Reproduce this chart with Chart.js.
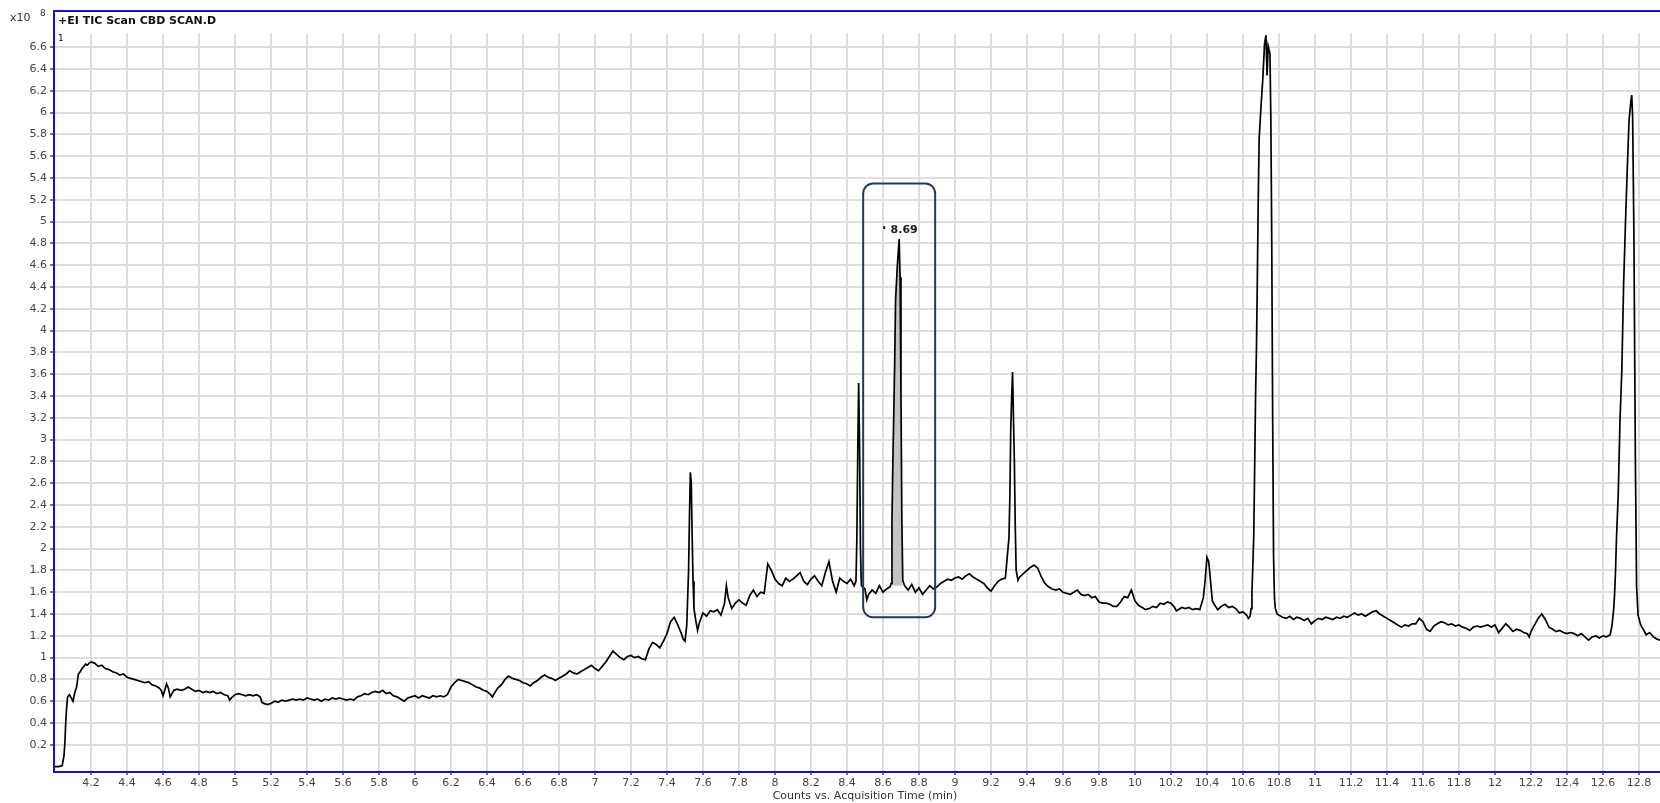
<!DOCTYPE html>
<html>
<head>
<meta charset="utf-8">
<title>+EI TIC Scan CBD SCAN.D</title>
<script src="https://cdn.jsdelivr.net/npm/chart.js@4.4.0/dist/chart.umd.min.js"></script>
<style>
    html, body { margin: 0; padding: 0; background: #fff; }
    #wrap { width: 1660px; height: 803px; }
</style>
</head>
<body>
<div id="wrap"><canvas id="tic" width="1660" height="803"></canvas></div>
<script>
// acquisition time (min) and counts (x10^8)
var times = [
    4.00,4.02,4.04,4.05,4.055,4.06,4.065,4.07,4.08,4.09,
    4.10,4.11,4.12,4.13,4.14,4.15,4.16,4.17,4.18,4.19,
    4.20,4.22,4.24,4.26,4.28,4.30,4.32,4.34,4.36,4.38,
    4.40,4.42,4.44,4.46,4.48,4.50,4.52,4.54,4.56,4.58,
    4.59,4.60,4.61,4.62,4.63,4.64,4.66,4.68,4.70,4.72,
    4.74,4.76,4.78,4.80,4.82,4.84,4.86,4.88,4.90,4.92,
    4.94,4.96,4.97,4.98,5.00,5.02,5.04,5.06,5.08,5.10,
    5.12,5.14,5.15,5.16,5.18,5.20,5.22,5.24,5.26,5.28,
    5.30,5.32,5.34,5.36,5.38,5.40,5.42,5.44,5.46,5.48,
    5.50,5.52,5.54,5.56,5.58,5.60,5.62,5.64,5.66,5.68,
    5.70,5.72,5.74,5.76,5.78,5.80,5.82,5.84,5.86,5.88,
    5.90,5.92,5.94,5.96,5.98,6.00,6.02,6.04,6.06,6.08,
    6.10,6.12,6.14,6.16,6.18,6.20,6.22,6.24,6.26,6.28,
    6.30,6.32,6.34,6.36,6.38,6.40,6.42,6.43,6.44,6.46,
    6.48,6.50,6.52,6.54,6.56,6.58,6.60,6.62,6.64,6.66,
    6.68,6.70,6.72,6.74,6.76,6.78,6.80,6.82,6.84,6.86,
    6.88,6.90,6.92,6.94,6.96,6.98,7.00,7.02,7.04,7.06,
    7.08,7.10,7.12,7.14,7.16,7.18,7.20,7.22,7.24,7.26,
    7.28,7.30,7.32,7.34,7.36,7.38,7.40,7.42,7.44,7.46,
    7.48,7.49,7.50,7.51,7.52,7.525,7.53,7.535,7.54,7.545,
    7.55,7.56,7.57,7.58,7.60,7.62,7.64,7.66,7.68,7.70,
    7.72,7.73,7.74,7.76,7.78,7.80,7.82,7.84,7.86,7.88,
    7.90,7.92,7.94,7.96,7.98,8.00,8.02,8.04,8.06,8.08,
    8.10,8.12,8.14,8.16,8.18,8.20,8.22,8.24,8.26,8.28,
    8.30,8.32,8.34,8.36,8.38,8.40,8.42,8.44,8.45,8.455,
    8.46,8.465,8.47,8.475,8.48,8.50,8.51,8.52,8.54,8.56,
    8.58,8.60,8.62,8.64,8.645,8.65,8.655,8.66,8.665,8.67,
    8.68,8.69,8.695,8.70,8.705,8.71,8.72,8.74,8.76,8.78,
    8.80,8.82,8.84,8.86,8.88,8.90,8.92,8.94,8.96,8.98,
    9.00,9.02,9.04,9.06,9.08,9.10,9.12,9.14,9.16,9.18,
    9.20,9.22,9.24,9.26,9.28,9.30,9.305,9.31,9.315,9.32,
    9.325,9.33,9.335,9.34,9.35,9.36,9.38,9.40,9.42,9.44,
    9.46,9.48,9.50,9.52,9.54,9.56,9.58,9.60,9.62,9.64,
    9.66,9.68,9.70,9.72,9.74,9.76,9.78,9.80,9.82,9.84,
    9.86,9.88,9.90,9.92,9.94,9.96,9.98,10.00,10.02,10.04,
    10.06,10.08,10.10,10.12,10.14,10.16,10.18,10.20,10.22,10.23,
    10.24,10.26,10.28,10.30,10.32,10.34,10.36,10.38,10.39,10.40,
    10.41,10.42,10.43,10.44,10.46,10.48,10.50,10.52,10.54,10.56,
    10.58,10.60,10.62,10.63,10.64,10.645,10.65,10.655,10.66,10.665,
    10.67,10.675,10.68,10.685,10.69,10.70,10.71,10.72,10.728,10.734,
    10.74,10.75,10.755,10.76,10.765,10.77,10.775,10.78,10.79,10.80,
    10.82,10.84,10.86,10.88,10.90,10.92,10.94,10.96,10.98,11.00,
    11.02,11.04,11.06,11.08,11.10,11.12,11.14,11.16,11.18,11.20,
    11.22,11.24,11.26,11.28,11.30,11.32,11.34,11.36,11.38,11.40,
    11.42,11.44,11.46,11.48,11.50,11.52,11.54,11.56,11.58,11.60,
    11.62,11.64,11.66,11.68,11.70,11.72,11.74,11.76,11.78,11.80,
    11.82,11.84,11.86,11.88,11.90,11.92,11.94,11.96,11.98,12.00,
    12.02,12.04,12.06,12.08,12.10,12.12,12.14,12.16,12.18,12.19,
    12.20,12.22,12.24,12.26,12.28,12.30,12.32,12.34,12.36,12.38,
    12.40,12.42,12.44,12.46,12.48,12.50,12.52,12.54,12.56,12.58,
    12.60,12.62,12.64,12.65,12.66,12.665,12.67,12.675,12.685,12.695,
    12.705,12.715,12.725,12.735,12.745,12.755,12.76,12.765,12.772,12.78,
    12.787,12.795,12.81,12.82,12.84,12.86,12.88,12.90,12.92,12.94
]
var counts = [
    0.00,0.00,0.01,0.10,0.22,0.42,0.55,0.64,0.66,0.63,
    0.60,0.68,0.73,0.85,0.87,0.90,0.92,0.94,0.93,0.95,
    0.96,0.95,0.92,0.93,0.90,0.89,0.87,0.86,0.84,0.85,
    0.82,0.81,0.80,0.79,0.78,0.77,0.78,0.75,0.74,0.72,
    0.70,0.65,0.70,0.76,0.72,0.64,0.70,0.71,0.70,0.71,
    0.73,0.71,0.69,0.70,0.68,0.69,0.68,0.69,0.67,0.68,
    0.66,0.65,0.61,0.63,0.66,0.67,0.66,0.65,0.66,0.65,
    0.66,0.64,0.59,0.58,0.57,0.58,0.60,0.59,0.61,0.60,
    0.61,0.62,0.61,0.62,0.61,0.63,0.62,0.61,0.62,0.60,
    0.62,0.61,0.63,0.62,0.63,0.62,0.61,0.62,0.61,0.64,
    0.65,0.67,0.66,0.68,0.69,0.68,0.70,0.67,0.68,0.65,
    0.64,0.62,0.60,0.63,0.64,0.65,0.63,0.65,0.64,0.63,
    0.65,0.64,0.65,0.64,0.66,0.73,0.77,0.80,0.79,0.78,
    0.77,0.75,0.73,0.72,0.70,0.69,0.66,0.64,0.67,0.72,
    0.75,0.80,0.83,0.81,0.80,0.79,0.77,0.76,0.74,0.77,
    0.79,0.82,0.84,0.82,0.81,0.79,0.81,0.83,0.85,0.88,
    0.86,0.85,0.87,0.89,0.91,0.93,0.90,0.88,0.92,0.96,
    1.01,1.06,1.03,1.00,0.98,1.01,1.02,1.00,1.01,0.99,
    0.98,1.08,1.14,1.12,1.09,1.15,1.22,1.33,1.37,1.30,
    1.22,1.17,1.15,1.30,1.80,2.30,2.70,2.60,2.10,1.70,
    1.45,1.34,1.25,1.32,1.41,1.38,1.43,1.42,1.44,1.39,
    1.50,1.66,1.55,1.45,1.50,1.53,1.50,1.48,1.57,1.62,
    1.56,1.60,1.59,1.86,1.80,1.72,1.68,1.66,1.73,1.70,
    1.72,1.75,1.78,1.70,1.67,1.72,1.75,1.70,1.66,1.78,
    1.88,1.70,1.60,1.73,1.70,1.68,1.72,1.66,1.70,2.10,
    2.90,3.52,2.95,2.00,1.66,1.63,1.53,1.58,1.62,1.59,
    1.66,1.60,1.63,1.65,1.68,2.26,2.80,3.24,3.70,4.28,
    4.60,4.84,4.49,3.42,2.26,1.71,1.66,1.62,1.67,1.60,
    1.64,1.58,1.62,1.66,1.63,1.65,1.68,1.70,1.72,1.71,
    1.73,1.74,1.72,1.75,1.77,1.74,1.72,1.70,1.68,1.64,
    1.61,1.66,1.70,1.72,1.73,2.10,2.47,3.10,3.39,3.62,
    3.20,2.80,2.20,1.80,1.71,1.74,1.77,1.80,1.83,1.85,
    1.82,1.74,1.68,1.65,1.63,1.62,1.63,1.60,1.59,1.58,
    1.60,1.62,1.58,1.57,1.58,1.55,1.56,1.51,1.50,1.50,
    1.49,1.47,1.47,1.51,1.56,1.55,1.62,1.52,1.48,1.46,
    1.44,1.45,1.47,1.46,1.50,1.49,1.51,1.50,1.46,1.43,
    1.44,1.46,1.45,1.46,1.44,1.45,1.44,1.55,1.71,1.92,
    1.88,1.70,1.52,1.49,1.44,1.47,1.49,1.46,1.47,1.45,
    1.41,1.42,1.39,1.36,1.38,1.45,1.60,1.85,2.12,2.74,
    3.39,3.83,4.48,5.21,5.76,6.05,6.30,6.63,6.71,6.34,
    6.61,6.54,5.94,4.81,3.21,1.94,1.55,1.45,1.40,1.39,
    1.37,1.36,1.38,1.35,1.37,1.36,1.34,1.36,1.31,1.34,
    1.36,1.35,1.37,1.36,1.35,1.37,1.36,1.38,1.37,1.39,
    1.41,1.39,1.40,1.38,1.40,1.42,1.43,1.40,1.38,1.36,
    1.34,1.32,1.30,1.28,1.30,1.29,1.31,1.31,1.36,1.33,
    1.26,1.24,1.29,1.31,1.33,1.32,1.30,1.31,1.29,1.30,
    1.28,1.27,1.25,1.28,1.29,1.28,1.29,1.30,1.28,1.30,
    1.23,1.27,1.31,1.28,1.24,1.26,1.25,1.23,1.22,1.19,
    1.24,1.30,1.36,1.40,1.35,1.28,1.26,1.24,1.25,1.23,
    1.22,1.23,1.22,1.20,1.22,1.19,1.16,1.19,1.20,1.18,
    1.20,1.19,1.21,1.29,1.45,1.59,1.80,2.08,2.50,3.19,
    3.64,4.43,4.98,5.47,5.93,6.10,6.16,5.96,4.89,2.86,
    1.65,1.39,1.30,1.27,1.21,1.23,1.19,1.17,1.16,1.18
]

var xTicks = [4.2,4.4,4.6,4.8,5,5.2,5.4,5.6,5.8,6,6.2,6.4,6.6,6.8,7,7.2,7.4,7.6,7.8,8,8.2,8.4,8.6,8.8,9,
              9.2,9.4,9.6,9.8,10,10.2,10.4,10.6,10.8,11,11.2,11.4,11.6,11.8,12,12.2,12.4,12.6,12.8]
var yTicks = [0.2,0.4,0.6,0.8,1,1.2,1.4,1.6,1.8,2,2.2,2.4,2.6,2.8,3,3.2,3.4,3.6,3.8,4,4.2,4.4,4.6,4.8,5,
              5.2,5.4,5.6,5.8,6,6.2,6.4,6.6]

// integrated peak at 8.69 min and its highlight box
var peakLabel = 8.69
var peakRange = [8.645, 8.71]
var peakBase = 1.66
var boxTimes = [8.49, 8.89]
var boxCounts = [1.37, 5.35]

var trace = times.map(function(t, i) { return {x: t, y: counts[i]} })
var peakArea = trace.filter(function(p) { return p.x >= peakRange[0] && p.x <= peakRange[1] })

var fam = "'DejaVu Sans', Verdana, sans-serif"
var fmt = function(v) { return String(Number(Number(v).toFixed(1))) }
var tickFont = {family: fam, size: 11}

var framePlugin = {
    id: 'frame',
    afterDatasetsDraw: function(chart) {
        var c = chart.ctx, xs = chart.scales.x, ys = chart.scales.y
        // rounded box round the 8.69 peak
        var x1 = xs.getPixelForValue(boxTimes[0]), x2 = xs.getPixelForValue(boxTimes[1])
        var y1 = ys.getPixelForValue(boxCounts[1]), y2 = ys.getPixelForValue(boxCounts[0])
        c.save()
        c.strokeStyle = '#1f3864'
        c.lineWidth = 2
        c.beginPath()
        c.roundRect(x1, y1, x2 - x1, y2 - y1, 10)
        c.stroke()
        // peak label
        var px = xs.getPixelForValue(peakLabel)
        var py = ys.getPixelForValue(counts[times.indexOf(peakLabel)])
        c.fillStyle = '#1a1a1a'
        c.font = 'bold 11px ' + fam
        c.textAlign = 'center'
        c.textBaseline = 'middle'
        c.fillText(String(peakLabel), px + 5, py - 9)
        c.fillRect(px - 16, py - 13, 2, 3)
        c.restore()
    },
    afterDraw: function(chart) {
        var c = chart.ctx, a = chart.chartArea
        c.save()
        c.strokeStyle = '#1414c8'
        c.lineWidth = 2
        c.beginPath()
        c.moveTo(a.left - 1, a.bottom + 1)
        c.lineTo(a.left - 1, 11)
        c.lineTo(chart.width, 11)
        c.moveTo(a.left - 2, a.bottom + 1)
        c.lineTo(chart.width, a.bottom + 1)
        c.stroke()

        c.fillStyle = '#111'
        c.textBaseline = 'middle'
        c.textAlign = 'left'
        c.font = 'bold 11px ' + fam
        c.fillText('+EI TIC Scan CBD SCAN.D', a.left + 3, 21)
        c.font = '9px ' + fam
        c.fillText('1', a.left + 3, 39)
        c.fillStyle = '#333'
        c.font = '11px ' + fam
        c.fillText('x10', 10, 18)
        c.font = '9px ' + fam
        c.fillText('8', 40, 14)
        c.font = '11px ' + fam
        c.textAlign = 'center'
        c.fillText('Counts vs. Acquisition Time (min)', 865, 796)
        c.restore()
    }
}

var ctx = document.getElementById('tic').getContext('2d')
new Chart(ctx, {
    type: 'line',
    data: {
        datasets: [
            {
                label           : 'TIC',
                data            : trace,
                borderColor     : '#000',
                borderWidth     : 1.7,
                pointRadius     : 0,
                tension         : 0,
                fill            : false
            },
            {
                label           : 'Peak 8.69',
                data            : peakArea,
                borderColor     : 'rgba(0,0,0,0)',
                borderWidth     : 0,
                backgroundColor : '#c4c4c4',
                pointRadius     : 0,
                tension         : 0,
                fill            : {value: peakBase}
            }
        ]
    },
    options: {
        responsive: false,
        animation: false,
        devicePixelRatio: 1,
        layout: {padding: {top: 33, left: 0, right: 0, bottom: 0}},
        plugins: {
            legend: {display: false},
            tooltip: {enabled: false},
            title: {display: false}
        },
        scales: {
            x: {
                type: 'linear',
                min: 4.0,
                max: 12.917,
                afterBuildTicks: function(s) { s.ticks = xTicks.map(function(v) { return {value: v} }) },
                afterFit: function(s) { s.height = 32 },
                border: {display: false},
                grid: {color: '#dedede', lineWidth: 2, tickLength: 4, tickColor: '#777'},
                ticks: {font: tickFont, color: '#444', padding: 2, maxRotation: 0, autoSkip: false, callback: fmt}
            },
            y: {
                type: 'linear',
                min: -0.04,
                max: 6.73,
                afterBuildTicks: function(s) { s.ticks = yTicks.map(function(v) { return {value: v} }) },
                afterFit: function(s) { s.width = 55 },
                border: {display: false},
                grid: {color: '#dedede', lineWidth: 2, tickLength: 5, tickColor: '#777'},
                ticks: {font: tickFont, color: '#444', padding: 3, autoSkip: false, callback: fmt}
            }
        }
    },
    plugins: [framePlugin]
})
</script>
</body>
</html>
